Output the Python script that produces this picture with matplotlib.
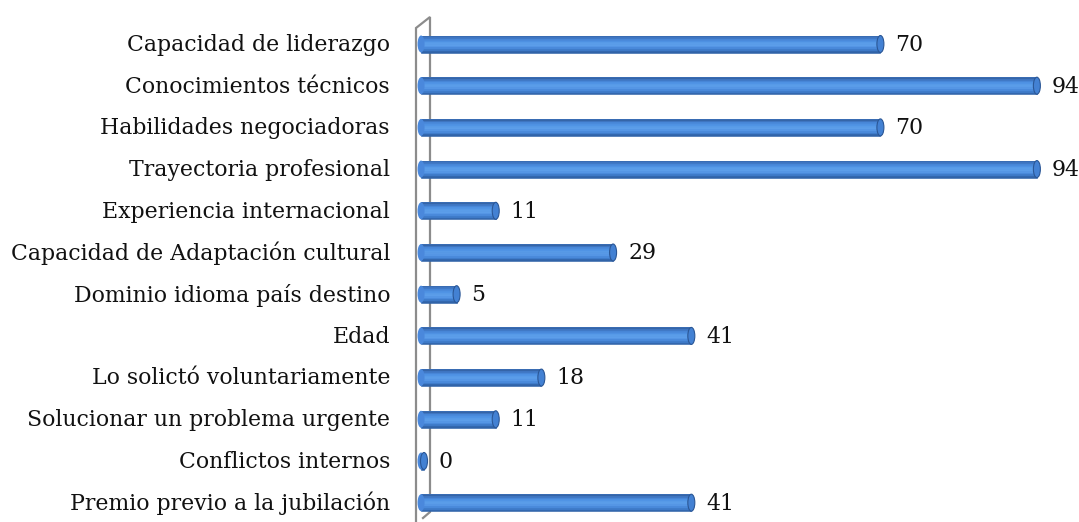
from matplotlib import pyplot as plt
from matplotlib.patches import Ellipse
import numpy as np

# values, top to bottom
labels = ['Capacidad de liderazgo', 'Conocimientos técnicos', 'Habilidades negociadoras',
          'Trayectoria profesional', 'Experiencia internacional',
          'Capacidad de Adaptación cultural', 'Dominio idioma país destino', 'Edad',
          'Lo solictó voluntariamente', 'Solucionar un problema urgente',
          'Conflictos internos', 'Premio previo a la jubilación']
values = [70, 94, 70, 94, 11, 29, 5, 41, 18, 11, 0, 41]

W, H = 1079, 522
PX_X0, PX_UNIT = 424, 6.52      # pixel of value 0, pixels per unit
PX_Y0, PX_ROW = 44, 41.7        # pixel of first row, pixels per row
FONT = 'DejaVu Serif'
FS = 15.8

fig = plt.figure(figsize=(W / 100, H / 100), dpi=100)
ax = fig.add_axes([0, 0, 1, 1])
ax.set_xlim(-PX_X0 / PX_UNIT, (W - PX_X0) / PX_UNIT)
ax.set_ylim((H - PX_Y0) / PX_ROW, -PX_Y0 / PX_ROW)
ax.axis('off')

def px(x, y):
    return (x - PX_X0) / PX_UNIT, (y - PX_Y0) / PX_ROW

# back wall of the 3d chart
wall = [(416, 522), (416, 28), (430, 17), (430, 512), (423, 518)]
wx, wy = zip(*[px(x, y) for x, y in wall])
ax.plot(wx, wy, color='#8c8c8c', lw=1.6, solid_joinstyle='miter', zorder=0.5)

# cylinder bars: stacked strips give the shading
shades = ['#3565a8', '#4079c6', '#4a8adb', '#5094e5', '#5a9de9', '#5c9eea',
          '#5596e5', '#4989da', '#3d79c7', '#3063a8']
h = 17 / PX_ROW
n = len(shades)
ypos = np.arange(len(values))
start = -0.45
cap = 7 / PX_UNIT
lengths = [max(v - start, 0.01) for v in values]
ax.barh(ypos, lengths, left=start, height=h, color='#4a88dc', lw=0, zorder=1)
for k, c in enumerate(shades):
    off = -h / 2 + (k + 0.5) * h / n
    ax.barh(ypos + off, lengths, left=start, height=h / n, color=c,
            edgecolor=c, lw=0.4, zorder=1.1)
for y, v in zip(ypos, values):
    ax.add_patch(Ellipse((start, y), cap, h, color='#4a88dc', lw=0, zorder=3))
    ax.add_patch(Ellipse((v, y), cap, h, facecolor='#4381d3',
                         edgecolor='#2b5796', lw=0.8, zorder=3))
    ax.text(v + 2.3, y + 0.02, str(v), va='center', ha='left',
            fontsize=FS, family=FONT, color='#111111')

for y, lab in zip(ypos, labels):
    ax.text(px(390, 0)[0], y + 0.02, lab, va='center', ha='right',
            fontsize=FS, family=FONT, color='#111111')

fig.savefig('out.png', dpi=100)
